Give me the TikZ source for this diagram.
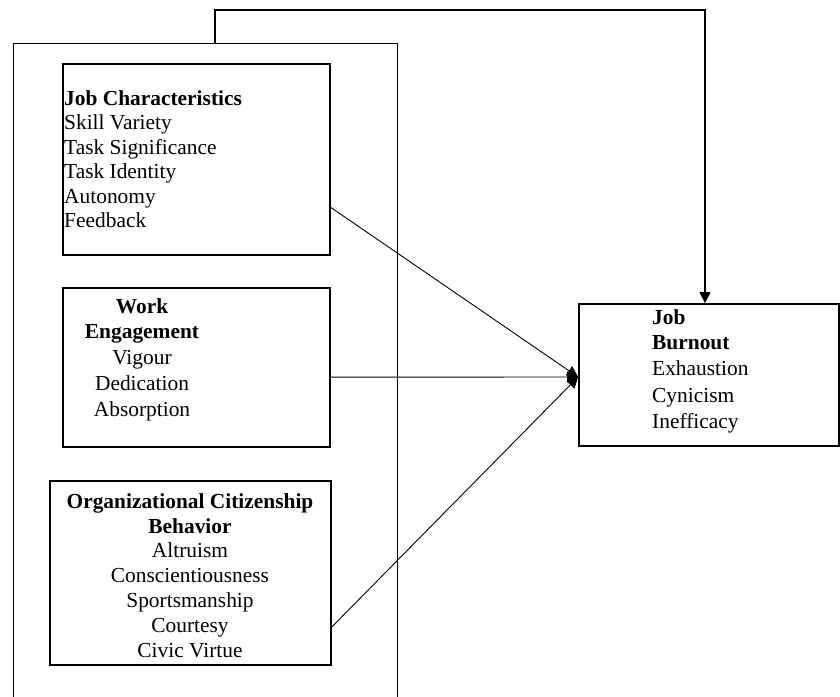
\documentclass[tikz,border=0pt]{standalone}
\usepackage{fontspec}
\setmainfont{Liberation Serif}
\usetikzlibrary{arrows.meta,calc}
\begin{document}
\begin{tikzpicture}[x=1pt,y=-1pt,
  box/.style={draw,line width=1.8pt,minimum width=#1,inner sep=0pt},
  txt/.style={inner sep=0pt,font=\fontsize{21.4}{24.5}\selectfont},
  thin/.style={draw,line width=0.9pt},
  arr/.style={thin,-{Triangle[length=11pt,width=11pt]}}]
\useasboundingbox (0,0) rectangle (840,696);
% outer frame (open at the bottom)
\draw[thin] (13,700) |- (397,43) -- (397,700);
% boxes
\node[box=267pt,minimum height=191pt] (jc) at (196.5,159.5) {};
\node[box=267pt,minimum height=159pt] (we) at (196.5,367.5) {};
\node[box=281pt,minimum height=184pt] (ocb) at (190.5,573) {};
\node[box=260pt,minimum height=142pt] (jb) at (709,375) {};
% texts
\node[txt,anchor=base west] (jc1) at (64,105) {\textbf{Job Characteristics}};
\foreach \t [count=\i] in {Skill Variety,Task Significance,Task Identity,Autonomy,Feedback}
  \node[txt,anchor=base west] (jcl\i) at (64,105+24.5*\i) {\t};
\node[txt,anchor=base] (we1) at (142,313) {\textbf{Work}};
\node[txt,anchor=base] (we2) at (142,338) {\textbf{Engagement}};
\foreach \t [count=\i] in {Vigour,Dedication,Absorption}
  \node[txt,anchor=base] (wel\i) at (142,338+26*\i) {\t};
\node[txt,anchor=base] (ocb1) at (190,508) {\textbf{Organizational Citizenship}};
\node[txt,anchor=base] (ocb2) at (190,533) {\textbf{Behavior}};
\foreach \t [count=\i] in {Altruism,Conscientiousness,Sportsmanship,Courtesy,Civic Virtue}
  \node[txt,anchor=base] (ocbl\i) at (190,533+24.8*\i) {\t};
\node[txt,anchor=base west] (jb1) at (652,324) {\textbf{Job}};
\node[txt,anchor=base west] (jb2) at (652,349) {\textbf{Burnout}};
\foreach \t [count=\i] in {Exhaustion,Cynicism,Inefficacy}
  \node[txt,anchor=base west] (jbl\i) at (652,349+26.5*\i) {\t};
% connectors
\coordinate (jcout) at ($(jc.north east)!0.749!(jc.south east)$);
\coordinate (weout) at ($(we.north east)!0.56!(we.south east)$);
\coordinate (ocbout) at ($(ocb.north east)!0.79!(ocb.south east)$);
\coordinate (jbin) at (jb.west |- 0,377);
\draw[arr] (jcout) -- (jbin);
\draw[arr] (weout) -- (jbin);
\draw[arr] (ocbout) -- (jbin);
\coordinate (ftop) at (215,43);
\coordinate (tc) at (705,10);
\draw[arr,line width=1.2pt] (ftop) |- (tc) -- (tc |- jb.north);
\end{tikzpicture}
\end{document}
